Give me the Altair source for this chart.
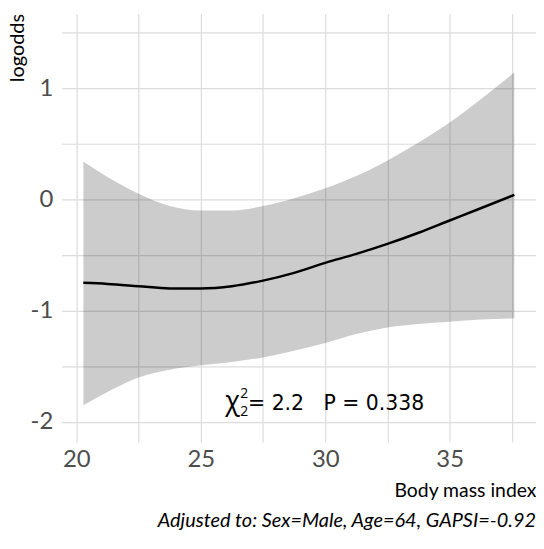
import altair as alt
import pandas as pd

bmi = [20.28, 21.25, 22.5, 23.75, 25.0, 26.25, 27.5, 28.75, 30.0, 31.25, 32.5, 33.75, 35.0, 36.25, 37.6]
yhat = [-0.75, -0.76, -0.78, -0.80, -0.80, -0.78, -0.73, -0.66, -0.57, -0.49, -0.40, -0.30, -0.19, -0.08, 0.04]
upper = [0.34, 0.20, 0.05, -0.06, -0.10, -0.10, -0.06, 0.01, 0.10, 0.21, 0.35, 0.51, 0.69, 0.90, 1.14]
lower = [-1.85, -1.73, -1.60, -1.53, -1.49, -1.46, -1.42, -1.36, -1.29, -1.21, -1.15, -1.12, -1.10, -1.08, -1.07]

x_ticks = [17.5, 20, 22.5, 25, 27.5, 30, 32.5, 35, 37.5]
y_ticks = [-2, -1.5, -1, -0.5, 0, 0.5, 1, 1.5]

stat_x = [26.9]
stat_y = [-1.89]
stat_text = ["= 2.2\u00a0\u00a0\u00a0P = 0.338"]

df = pd.DataFrame({"bmi": bmi, "yhat": yhat, "lower": lower, "upper": upper})
ann = pd.DataFrame({"x": stat_x, "y": stat_y, "t": stat_text})

xs = alt.Scale(domain=[19.41, 38.47], nice=False, zero=False)
ys = alt.Scale(domain=[-2.18, 1.67], nice=False, zero=False)

xaxis = alt.Axis(
    values=x_ticks, labelExpr="datum.value % 5 == 0 ? '' + datum.value : ''",
    grid=True, gridColor="#dcdcdc", gridWidth=1.2, domain=False, ticks=False,
    labelFont="Lato", labelFontSize=24, labelColor="#4d4d4d", labelPadding=6,
    title="Body mass index", titleFont="Lato", titleFontSize=19.5, titleFontWeight="normal",
    titleColor="black", titleAnchor="end", titlePadding=10,
)
yaxis = alt.Axis(
    values=y_ticks, labelExpr="datum.value % 1 == 0 ? '' + datum.value : ''",
    grid=True, gridColor="#dcdcdc", gridWidth=1.2, domain=False, ticks=False,
    labelFont="Lato", labelFontSize=20, labelColor="#4d4d4d", labelPadding=9,
    title="logodds", titleFont="Lato", titleFontSize=20, titleFontWeight="normal",
    titleColor="black", titleAnchor="end", titleAlign="right", titleAngle=270,
    titleBaseline="bottom", titleX=-34, titleY=0,
)
yaxis = alt.Axis(
    values=y_ticks, labelExpr="datum.value % 1 == 0 ? '' + datum.value : ''",
    grid=True, gridColor="#dcdcdc", gridWidth=1.2, domain=False, ticks=False,
    labelFont="Lato", labelFontSize=24, labelColor="#4d4d4d", labelPadding=9,
    title="logodds", titleFont="Lato", titleFontSize=20, titleFontWeight="normal",
    titleColor="black", titleAnchor="end", titleAlign="right", titleAngle=270,
    titleBaseline="bottom", titleX=-34, titleY=0,
)

base = alt.Chart(df)
band = base.mark_area(color="black", opacity=0.2, interpolate="monotone").encode(
    x=alt.X("bmi:Q", scale=xs, axis=xaxis),
    y=alt.Y("lower:Q", scale=ys, axis=yaxis),
    y2="upper:Q",
)
line = base.mark_line(color="black", strokeWidth=2.5, interpolate="monotone").encode(
    x=alt.X("bmi:Q", scale=xs), y=alt.Y("yhat:Q", scale=ys)
)

annb = alt.Chart(ann)
t_main = annb.mark_text(align="left", baseline="alphabetic", font="DejaVu Sans", fontSize=20.5, color="black").encode(
    x=alt.X("x:Q", scale=xs), y=alt.Y("y:Q", scale=ys), text="t:N"
)
t_chi = annb.mark_text(align="left", baseline="alphabetic", font="Open Sans", fontSize=27, color="black", dx=-23, dy=0).encode(
    x=alt.X("x:Q", scale=xs), y=alt.Y("y:Q", scale=ys), text=alt.value("χ")
)
t_sup = annb.mark_text(align="left", baseline="alphabetic", font="Open Sans", fontSize=14, color="black", dx=-8, dy=-12).encode(
    x=alt.X("x:Q", scale=xs), y=alt.Y("y:Q", scale=ys), text=alt.value("2")
)
t_sub = annb.mark_text(align="left", baseline="alphabetic", font="Open Sans", fontSize=14, color="black", dx=-8, dy=6).encode(
    x=alt.X("x:Q", scale=xs), y=alt.Y("y:Q", scale=ys), text=alt.value("2")
)

chart = alt.layer(band, line, t_main, t_chi, t_sup, t_sub).properties(
    width=477, height=431,
    autosize=alt.AutoSizeParams(type="none"),
    padding={"left": 54, "top": 4, "right": 0, "bottom": 95},
    title=alt.TitleParams(
        text="Adjusted to: Sex=Male, Age=64, GAPSI=-0.92", orient="bottom", anchor="end",
        font="Lato", fontSize=20, fontStyle="italic", fontWeight="normal", color="black", offset=11,
    ),
).configure_view(stroke=None)

chart.save("out.html", embed_options={"renderer": "svg", "actions": False})
